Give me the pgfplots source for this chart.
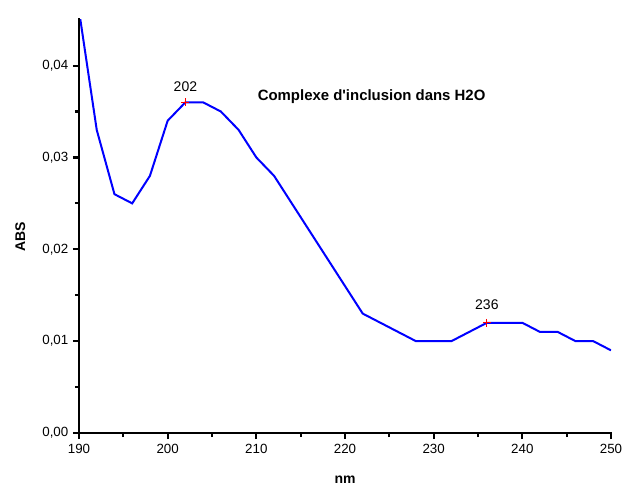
\documentclass[border=0pt]{standalone}
\usepackage{fontspec}
\setmainfont{Liberation Sans}
\usepackage{pgfplots}
\pgfplotsset{compat=1.18}
\definecolor{lineblue}{RGB}{0,0,255}
\begin{document}
\begin{tikzpicture}
\path[use as bounding box] (-59.25pt,-40.5pt) rectangle (408pt,324.75pt);
\begin{axis}[
  at={(0pt,0pt)}, anchor=south west,
  scale only axis,
  width=399pt, height=310pt,
  xmin=190, xmax=250, ymin=0, ymax=0.045,
  axis x line=bottom, axis y line=left,
  axis line style={-, black, line width=2pt},
  xtick={190,200,...,250}, minor xtick={195,205,...,245},
  ytick={0,0.01,0.02,0.03,0.04}, minor ytick={0.005,0.015,0.025,0.035},
  tick align=outside,
  major tick length=4.5pt, minor tick length=3pt,
  tick style={line width=1.6pt, black},
  scaled y ticks=false,
  yticklabel style={/pgf/number format/.cd, fixed, fixed zerofill, precision=2, use comma, assume math mode=true},
  xticklabel style={/pgf/number format/.cd, assume math mode=true, 1000 sep={}},
  ticklabel style={font=\fontsize{10}{12}\selectfont},
  xlabel={\textbf{nm}},
  label style={font=\fontsize{10.5}{12}\selectfont},
  xlabel style={at={(axis description cs:0.5,0)}, anchor=center, yshift=-35pt},
  clip mode=individual,
]
\addplot[lineblue, line width=1.5pt] coordinates {
(190,0.046) (192,0.033) (194,0.026) (196,0.025) (198,0.028) (200,0.034)
(202,0.036) (204,0.036) (206,0.035) (208,0.033) (210,0.030) (212,0.028)
(222,0.013) (228,0.010) (232,0.010) (236,0.012) (240,0.012) (242,0.011)
(244,0.011) (246,0.010) (248,0.010) (250,0.009)
};
\addplot[red, only marks, mark=+, mark size=3pt, line width=0.6pt] coordinates {(202,0.036) (236,0.012)};
\draw[black, line width=2pt, line cap=rect] (rel axis cs:0,1) -- (rel axis cs:0,0) -- (rel axis cs:1,0);
\node[font=\fontsize{10.5}{12}\selectfont] at (axis cs:202,0.0377) {202};
\node[font=\fontsize{10.5}{12}\selectfont] at (axis cs:236,0.0140) {236};
\node[font=\bfseries\fontsize{11.2}{13}\selectfont] at (axis cs:223,0.0366) {Complexe d\textquotesingle inclusion dans H2O};
\node[rotate=90, font=\bfseries\fontsize{10.5}{12}\selectfont] at ([xshift=-44pt]rel axis cs:0,0.475) {ABS};
\end{axis}
\end{tikzpicture}
\end{document}
